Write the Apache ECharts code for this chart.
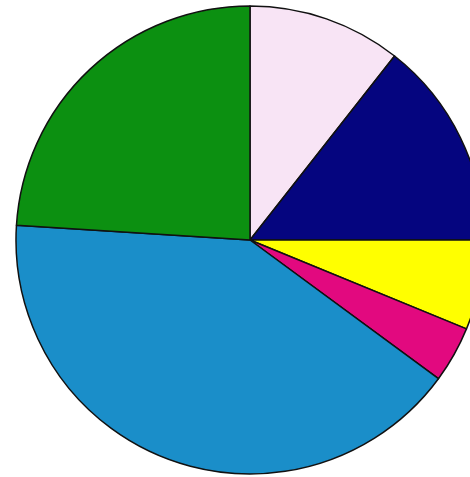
<!DOCTYPE html>
<html>
<head>
<meta charset="utf-8">
<script src="https://cdn.jsdelivr.net/npm/echarts@6/dist/echarts.min.js"></script>
<style>
  html, body { margin: 0; padding: 0; background: #fff; }
  #container { width: 470px; height: 477px; }
</style>
</head>
<body>
<div id="container"></div>
<script>
// slices clockwise from 12 o'clock, values in percent
let sliceNames = ['Pink', 'Navy', 'Yellow', 'Magenta', 'Blue', 'Green'];
let sliceValues = [10.6, 14.4, 6.2, 3.9, 40.9, 24.0];
let sliceColors = ['#f8e4f5', '#05057f', '#ffff00', '#e2097f', '#1a8ec9', '#0c9011'];

let dom = document.getElementById('container');
let myChart = echarts.init(dom, null, { renderer: 'canvas' });

let option = {
    backgroundColor: '#fff',
    animation: false,
    series: [
        {
            type: 'pie',
            center: [250, 240],
            radius: [0, 234],
            startAngle: 90,
            clockwise: true,
            label: { show: false },
            labelLine: { show: false },
            emphasis: { disabled: true },
            itemStyle: {
                borderColor: '#111',
                borderWidth: 1.5
            },
            data: sliceNames.map(function (n, i) {
                return { name: n, value: sliceValues[i], itemStyle: { color: sliceColors[i] } };
            })
        }
    ]
};
myChart.setOption(option, true);
</script>
</body>
</html>
